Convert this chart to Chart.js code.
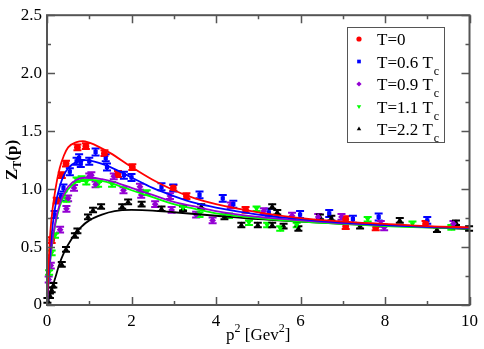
<!DOCTYPE html>
<html>
<head>
<meta charset="utf-8">
<script src="https://cdn.jsdelivr.net/npm/chart.js@4.4.1/dist/chart.umd.min.js"></script>
<style>
  html, body { margin: 0; padding: 0; background: #fff; }
  canvas { display: block; }
</style>
</head>
<body>
<canvas id="chart" width="484" height="349"></canvas>
<script>
// lattice data points, p^2 in GeV^2
const redX = [0.11, 0.23, 0.35, 0.45, 0.72, 0.92, 1.36, 1.68, 2.02, 2.99, 3.30, 4.70, 7.07, 7.07, 7.78, 8.96];
const redY = [0.56, 0.90, 1.12, 1.22, 1.36, 1.37, 1.31, 1.13, 1.19, 1.01, 0.94, 0.82, 0.74, 0.68, 0.67, 0.70];

const blueX = [0.18, 0.33, 0.39, 0.54, 0.70, 0.76, 0.80, 1.0, 1.15, 1.39, 1.42, 1.82, 2.0, 2.71, 2.99, 3.61, 4.16, 4.41, 5.25, 5.99, 6.68, 7.24, 7.85, 9.0];
const blueY = [0.78, 0.93, 1.01, 1.15, 1.24, 1.27, 1.22, 1.24, 1.32, 1.27, 1.19, 1.12, 1.10, 1.02, 1.01, 0.95, 0.92, 0.87, 0.80, 0.78, 0.79, 0.74, 0.76, 0.73];

const purpleX = [0.04, 0.09, 0.31, 0.46, 0.50, 0.64, 1.0, 1.05, 1.15, 1.58, 1.81, 2.20, 2.23, 2.56, 2.91, 2.95, 3.53, 3.92, 4.35, 5.13, 5.80, 6.42, 6.97, 7.90, 7.98, 9.62];
const purpleY = [0.22, 0.34, 0.65, 0.83, 0.92, 1.01, 1.11, 1.12, 1.04, 1.11, 0.99, 1.02, 0.95, 0.87, 0.94, 0.82, 0.78, 0.73, 0.86, 0.81, 0.77, 0.76, 0.76, 0.70, 0.67, 0.70];

const greenX = [0.05, 0.11, 0.19, 0.46, 0.70, 0.82, 0.93, 1.21, 1.54, 2.36, 3.22, 3.61, 4.31, 4.78, 4.96, 5.21, 5.52, 5.91, 7.59, 8.65, 9.57];
const greenY = [0.28, 0.45, 0.60, 0.91, 1.08, 1.09, 1.06, 1.04, 1.04, 0.97, 0.84, 0.78, 0.77, 0.71, 0.83, 0.69, 0.66, 0.69, 0.74, 0.70, 0.67];

const blackX = [0.01, 0.07, 0.11, 0.15, 0.35, 0.45, 0.66, 0.72, 0.97, 1.09, 1.28, 1.78, 1.92, 2.24, 2.71, 3.22, 3.65, 4.20, 4.60, 4.99, 5.33, 5.33, 5.45, 5.60, 5.95, 6.46, 6.73, 7.41, 8.35, 9.23, 9.68, 9.99];
const blackY = [0.04, 0.08, 0.13, 0.17, 0.35, 0.48, 0.60, 0.64, 0.76, 0.82, 0.85, 0.85, 0.89, 0.87, 0.83, 0.83, 0.85, 0.76, 0.69, 0.69, 0.85, 0.69, 0.80, 0.68, 0.66, 0.76, 0.75, 0.68, 0.73, 0.65, 0.71, 0.66];

// one error size per series
const errs = [0.025, 0.03, 0.025, 0.02, 0.02];

// fit curves
const redFitX = [0, 0.05, 0.1, 0.2, 0.3, 0.4, 0.5, 0.7, 0.85, 1.0, 1.25, 1.5, 2, 2.5, 3, 3.5, 4, 5, 6, 7, 8, 9, 10];
const redFitY = [0, 0.45, 0.72, 1.0, 1.18, 1.29, 1.36, 1.405, 1.414, 1.40, 1.36, 1.31, 1.19, 1.08, 0.99, 0.92, 0.87, 0.80, 0.75, 0.72, 0.70, 0.68, 0.67];
const blueFitX = [0, 0.05, 0.1, 0.2, 0.3, 0.4, 0.5, 0.7, 0.9, 1.1, 1.5, 2, 2.5, 3, 3.5, 4, 5, 6, 7, 8, 9, 10];
const blueFitY = [0, 0.35, 0.58, 0.86, 1.02, 1.12, 1.18, 1.235, 1.25, 1.24, 1.19, 1.10, 1.01, 0.94, 0.88, 0.84, 0.78, 0.74, 0.71, 0.69, 0.675, 0.665];
const purpleFitX = [0, 0.05, 0.1, 0.2, 0.3, 0.4, 0.5, 0.7, 1.0, 1.3, 1.6, 2, 2.5, 3, 3.5, 4, 5, 6, 7, 8, 9, 10];
const purpleFitY = [0, 0.28, 0.48, 0.72, 0.87, 0.96, 1.02, 1.08, 1.10, 1.085, 1.06, 1.01, 0.95, 0.89, 0.85, 0.81, 0.76, 0.73, 0.705, 0.69, 0.675, 0.665];
const greenFitX = [0, 0.05, 0.1, 0.2, 0.3, 0.4, 0.5, 0.7, 1.0, 1.3, 1.6, 2, 2.5, 3, 3.5, 4, 5, 6, 7, 8, 9, 10];
const greenFitY = [0, 0.27, 0.46, 0.70, 0.85, 0.94, 1.0, 1.06, 1.08, 1.07, 1.04, 0.99, 0.93, 0.87, 0.83, 0.79, 0.75, 0.72, 0.70, 0.68, 0.67, 0.66];
const blackFitX = [0, 0.1, 0.2, 0.3, 0.4, 0.6, 0.8, 1.0, 1.3, 1.6, 2.0, 2.5, 3, 4, 5, 6, 7, 8, 9, 10];
const blackFitY = [0, 0.12, 0.24, 0.36, 0.45, 0.58, 0.67, 0.73, 0.78, 0.81, 0.82, 0.815, 0.80, 0.77, 0.74, 0.72, 0.70, 0.685, 0.67, 0.655];

const labels = ["T=0", "T=0.6 T", "T=0.9 T", "T=1.1 T", "T=2.2 T"];
const colors = ["#ff0000", "#0000ff", "#9400d3", "#00ff00", "#000000"];
const shapes = ["circle", "rect", "rectRot", "triangle", "triangle"];
const rotations = [0, 0, 0, 180, 0];

const xTicks = [0, 2, 4, 6, 8, 10];
const yTicks = [0, 0.5, 1, 1.5, 2, 2.5];

const ptsX = [redX, blueX, purpleX, greenX, blackX];
const ptsY = [redY, blueY, purpleY, greenY, blackY];
const fitX = [redFitX, blueFitX, purpleFitX, greenFitX, blackFitX];
const fitY = [redFitY, blueFitY, purpleFitY, greenFitY, blackFitY];

function pairs(xs, ys) {
  return xs.map(function(x, i) { return { x: x, y: ys[i] }; });
}

const datasets = [];
for (let i = 0; i < 5; i++) {
  datasets.push({
    type: "scatter",
    label: labels[i],
    data: pairs(ptsX[i], ptsY[i]),
    backgroundColor: colors[i],
    borderColor: colors[i],
    borderWidth: 0,
    pointStyle: shapes[i],
    pointRotation: rotations[i],
    pointRadius: shapes[i] == "rect" ? 3 : 3.4,
    errIndex: i,
    order: 2
  });
}
for (let i = 0; i < 5; i++) {
  datasets.push({
    type: "line",
    label: labels[i] + " fit",
    data: pairs(fitX[i], fitY[i]),
    borderColor: colors[i],
    borderWidth: 1.8,
    pointRadius: 0,
    fill: false,
    cubicInterpolationMode: "monotone",
    order: 1
  });
}

// error bars, frame, inward ticks, axis titles and legend
const extras = {
  id: "extras",
  beforeDatasetsDraw: function(chart) {
    const ctx = chart.ctx;
    const xs = chart.scales.x, ys = chart.scales.y;
    ctx.save();
    chart.data.datasets.forEach(function(ds) {
      if (ds.errIndex === undefined) return;
      const e = errs[ds.errIndex];
      ctx.strokeStyle = ds.borderColor;
      ctx.lineWidth = 2;
      ds.data.forEach(function(p) {
        const px = xs.getPixelForValue(p.x);
        const top = ys.getPixelForValue(p.y + e);
        const bot = ys.getPixelForValue(p.y - e);
        ctx.beginPath();
        ctx.moveTo(px, top); ctx.lineTo(px, bot);
        ctx.moveTo(px - 4, top); ctx.lineTo(px + 4, top);
        ctx.moveTo(px - 4, bot); ctx.lineTo(px + 4, bot);
        ctx.stroke();
      });
    });
    ctx.restore();
  },
  afterDraw: function(chart) {
    const ctx = chart.ctx;
    const a = chart.chartArea;
    const xs = chart.scales.x, ys = chart.scales.y;
    ctx.save();
    ctx.strokeStyle = "#555";
    ctx.lineWidth = 1.5;
    ctx.beginPath();
    for (let v = 0; v <= 10; v += 1) {
      const px = Math.round(xs.getPixelForValue(v)) + 0.5;
      const len = v % 2 == 0 ? 8 : 4;
      ctx.moveTo(px, a.bottom); ctx.lineTo(px, a.bottom - len);
      ctx.moveTo(px, a.top); ctx.lineTo(px, a.top + len);
    }
    for (let k = 0; k <= 10; k++) {
      const py = Math.round(ys.getPixelForValue(k * 0.25)) + 0.5;
      const len = k % 2 == 0 ? 8 : 4;
      ctx.moveTo(a.left, py); ctx.lineTo(a.left + len, py);
      ctx.moveTo(a.right, py); ctx.lineTo(a.right - len, py);
    }
    ctx.stroke();
    ctx.lineWidth = 2;
    ctx.strokeRect(a.left, a.top, a.right - a.left, a.bottom - a.top);

    // x title
    ctx.fillStyle = "#000";
    ctx.textBaseline = "alphabetic";
    ctx.textAlign = "left";
    const big = "17px 'Liberation Serif', 'DejaVu Serif', serif";
    const small = "12px 'Liberation Serif', 'DejaVu Serif', serif";
    const parts = [["p", big, 0], ["2", small, -8], [" [Gev", big, 0], ["2", small, -8], ["]", big, 0]];
    let w = 0;
    parts.forEach(function(p) { ctx.font = p[1]; w += ctx.measureText(p[0]).width; });
    let x0 = (a.left + a.right) / 2 - w / 2;
    parts.forEach(function(p) {
      ctx.font = p[1];
      ctx.fillText(p[0], x0, 340 + p[2]);
      x0 += ctx.measureText(p[0]).width;
    });

    // y title
    ctx.save();
    ctx.translate(17, 160);
    ctx.rotate(-Math.PI / 2);
    const bBig = "bold 17px 'Liberation Serif', 'DejaVu Serif', serif";
    const bSmall = "bold 12px 'Liberation Serif', 'DejaVu Serif', serif";
    const yparts = [["Z", bBig, 0], ["T", bSmall, 4], ["(p)", bBig, 0]];
    w = 0;
    yparts.forEach(function(p) { ctx.font = p[1]; w += ctx.measureText(p[0]).width; });
    x0 = -w / 2;
    yparts.forEach(function(p) {
      ctx.font = p[1];
      ctx.fillText(p[0], x0, p[2]);
      x0 += ctx.measureText(p[0]).width;
    });
    ctx.restore();

    // legend
    ctx.fillStyle = "#fff";
    ctx.fillRect(347, 27, 97, 115);
    ctx.strokeStyle = "#555";
    ctx.lineWidth = 1;
    ctx.strokeRect(347.5, 27.5, 97, 115);
    for (let i = 0; i < 5; i++) {
      const cy = 39 + i * 22.5;
      ctx.fillStyle = colors[i];
      Chart.helpers.drawPoint(ctx, { pointStyle: shapes[i], rotation: rotations[i], radius: 2.6, borderWidth: 0 }, 359, cy);
      ctx.fillStyle = "#000";
      ctx.font = big;
      ctx.fillText(labels[i], 377, cy + 6);
      if (i > 0) {
        const tw = ctx.measureText(labels[i]).width;
        ctx.font = small;
        ctx.fillText("c", 377 + tw + 1, cy + 13);
      }
    }
    ctx.restore();
  }
};

new Chart(document.getElementById("chart"), {
  data: { datasets: datasets },
  options: {
    responsive: false,
    animation: false,
    devicePixelRatio: 1,
    layout: { padding: { top: 7, right: 9, left: 0, bottom: 0 } },
    plugins: {
      legend: { display: false },
      tooltip: { enabled: false }
    },
    scales: {
      x: {
        type: "linear",
        min: 0,
        max: 10,
        afterFit: function(s) { s.height = 44; },
        afterBuildTicks: function(s) { s.ticks = xTicks.map(function(v) { return { value: v }; }); },
        grid: { display: false, drawTicks: false },
        border: { display: false },
        ticks: {
          padding: 6,
          color: "#000",
          font: { family: "'Liberation Serif', serif", size: 17 }
        }
      },
      y: {
        type: "linear",
        min: 0,
        max: 2.5,
        afterFit: function(s) { s.width = 47; },
        afterBuildTicks: function(s) { s.ticks = yTicks.map(function(v) { return { value: v }; }); },
        grid: { display: false, drawTicks: false },
        border: { display: false },
        ticks: {
          padding: 5,
          color: "#000",
          font: { family: "'Liberation Serif', serif", size: 17 }
        }
      }
    }
  },
  plugins: [extras]
});
</script>
</body>
</html>
